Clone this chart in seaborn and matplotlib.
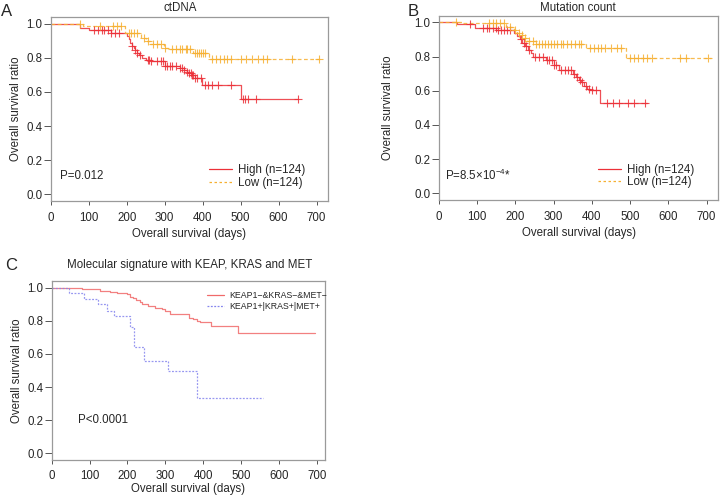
import numpy as np
import pandas as pd
import matplotlib
matplotlib.use('Agg')
import matplotlib.pyplot as plt
import seaborn as sns
from matplotlib.lines import Line2D

sns.set_style('ticks')
plt.rcParams['font.family'] = ['Liberation Sans', 'DejaVu Sans']
plt.rcParams['mathtext.fontset'] = 'custom'
plt.rcParams['mathtext.rm'] = 'Liberation Sans'
plt.rcParams['mathtext.it'] = 'Liberation Sans'

# ---- Panel A: ctDNA ----
a_high_t = [0, 78, 100, 160, 200, 205, 210, 214, 218, 222, 226, 232, 240, 250, 265, 300,
            340, 350, 358, 365, 372, 380, 398, 500]
a_high_s = [1.0, 0.975, 0.965, 0.945, 0.93, 0.91, 0.89, 0.87, 0.86, 0.845, 0.83, 0.815, 0.80,
            0.79, 0.78, 0.755, 0.74, 0.73, 0.72, 0.71, 0.70, 0.68, 0.64, 0.56]
a_high_cens = [115, 125, 135, 140, 150, 160, 168, 180, 215, 222, 228, 235, 255, 258, 265, 280,
               290, 295, 300, 305, 315, 320, 330, 340, 345, 350, 360, 365, 370, 372, 375, 380,
               385, 395, 405, 415, 425, 440, 475, 505, 512, 520, 540, 650]
a_high_end = 652

a_low_t = [0, 85, 195, 238, 250, 262, 297, 312, 375, 418]
a_low_s = [1.0, 0.985, 0.945, 0.915, 0.90, 0.88, 0.86, 0.85, 0.83, 0.795]
a_low_cens = [78, 130, 165, 175, 185, 205, 212, 220, 228, 245, 255, 270, 280, 290, 300, 320,
              330, 340, 345, 355, 360, 368, 380, 385, 390, 395, 400, 405, 425, 435, 445, 455,
              465, 475, 500, 515, 530, 545, 560, 570, 635, 705]
a_low_end = 710

# ---- Panel B: Mutation count ----
b_high_t = [0, 46, 94, 150, 195, 205, 212, 218, 225, 232, 240, 246, 280, 300, 315, 350, 358,
            365, 372, 380, 388, 395, 422]
b_high_s = [1.0, 0.99, 0.965, 0.955, 0.94, 0.92, 0.90, 0.88, 0.86, 0.84, 0.82, 0.80, 0.78,
            0.75, 0.72, 0.70, 0.68, 0.66, 0.65, 0.63, 0.61, 0.605, 0.53]
b_high_cens = [80, 115, 125, 132, 140, 148, 155, 162, 170, 178, 185, 215, 222, 228, 235, 250,
               262, 272, 282, 288, 295, 300, 305, 320, 330, 338, 345, 352, 362, 368, 375, 385,
               392, 400, 412, 440, 455, 470, 495, 510, 540]
b_high_end = 545

b_low_t = [0, 60, 175, 195, 205, 212, 220, 230, 255, 385, 490]
b_low_s = [1.0, 0.995, 0.975, 0.955, 0.94, 0.925, 0.91, 0.89, 0.875, 0.85, 0.79]
b_low_cens = [45, 130, 140, 150, 160, 170, 185, 200, 210, 218, 225, 235, 245, 255, 262, 270,
              278, 285, 292, 300, 310, 318, 325, 335, 345, 355, 365, 372, 395, 405, 415, 425,
              435, 450, 465, 475, 500, 510, 520, 535, 545, 558, 630, 645, 705]
b_low_end = 712

# ---- Panel C: molecular signature ----
c_neg_t = [0, 79, 100, 128, 154, 172, 198, 207, 215, 224, 232, 238, 255, 273, 291, 300, 313,
           362, 372, 383, 392, 420, 493]
c_neg_s = [1.0, 0.995, 0.99, 0.98, 0.975, 0.97, 0.96, 0.945, 0.935, 0.925, 0.915, 0.90, 0.89,
           0.88, 0.87, 0.86, 0.84, 0.82, 0.81, 0.80, 0.79, 0.77, 0.728]
c_neg_end = 695

c_pos_t = [0, 46, 85, 123, 145, 165, 208, 217, 244, 308, 383]
c_pos_s = [1.0, 0.966, 0.93, 0.90, 0.86, 0.83, 0.76, 0.64, 0.56, 0.50, 0.335]
c_pos_end = 559

xticks = [0, 100, 200, 300, 400, 500, 600, 700]
yticks = [0.0, 0.2, 0.4, 0.6, 0.8, 1.0]

RED = '#ec3038'
ORANGE = '#f6b032'
C_RED = '#f06a6a'
C_BLUE = '#8585ee'
FS = 8.3

W, H = 720, 499


def px_axes(fig, left, right, top, bottom):
    return fig.add_axes([left / W, 1 - bottom / H, (right - left) / W, (bottom - top) / H])


def km_frame(t, s, end):
    return pd.DataFrame({'time': list(t) + [end], 'surv': list(s) + [s[-1]]})


def draw_curve(ax, t, s, end, color, ls, cens=None, lw=0.9):
    d = km_frame(t, s, end)
    sns.lineplot(data=d, x='time', y='surv', ax=ax, color=color, linestyle=ls, lw=lw,
                 drawstyle='steps-post', estimator=None, sort=False, alpha=0.85)
    if cens is not None:
        idx = np.searchsorted(np.array(t), np.array(cens), side='right') - 1
        cd = pd.DataFrame({'time': cens, 'surv': np.array(s)[idx]})
        sns.scatterplot(data=cd, x='time', y='surv', ax=ax, marker='+', color=color,
                        s=32, linewidth=0.8, alpha=0.85, zorder=3)


def style_axes(ax, xmax, ypad=3, xpad=2.5):
    ax.set_xlim(0, xmax)
    ax.set_ylim(-0.04, 1.04)
    ax.set_xticks(xticks)
    ax.set_yticks(yticks)
    ax.set_yticklabels([f'{v:.1f}' for v in yticks])
    ax.tick_params(axis='y', length=5, width=0.7, pad=1, labelsize=FS, color='#555555')
    ax.tick_params(axis='x', length=3, width=0.7, pad=5, labelsize=FS, color='#555555')
    for sp in ax.spines.values():
        sp.set_visible(True)
        sp.set_color('#9a9a9a')
        sp.set_linewidth(0.9)
    ax.set_xlabel('Overall survival (days)', fontsize=FS, labelpad=xpad)
    ax.set_ylabel('Overall survival ratio', fontsize=FS, labelpad=ypad)


fig = plt.figure(figsize=(7.2, 4.99), dpi=100)

# Panel A
axA = px_axes(fig, 50.7, 328, 17, 201)
draw_curve(axA, a_high_t, a_high_s, a_high_end, RED, '-', a_high_cens)
draw_curve(axA, a_low_t, a_low_s, a_low_end, ORANGE, (0, (3, 2)), a_low_cens)
style_axes(axA, 730)
axA.text(24, 0.106, 'P=0.012', fontsize=FS, va='center', ha='left')
hA = [Line2D([], [], color=RED, lw=0.9), Line2D([], [], color=ORANGE, lw=0.9, ls=(0, (2, 2)))]
axA.legend(hA, ['High (n=124)', 'Low (n=124)'], loc='upper left', bbox_to_anchor=(0.571, 0.2),
           frameon=False, fontsize=FS, handlelength=2.0, handletextpad=0.5, borderpad=0,
           borderaxespad=0, labelspacing=0.05)

# Panel B
axB = px_axes(fig, 439, 718, 15.5, 200.1)
draw_curve(axB, b_high_t, b_high_s, b_high_end, RED, '-', b_high_cens)
draw_curve(axB, b_low_t, b_low_s, b_low_end, ORANGE, (0, (3, 2)), b_low_cens)
style_axes(axB, 730, ypad=15)
axB.text(16, 0.107, 'P=8.5×10$^{-4}$*', fontsize=FS, va='center', ha='left')
axB.legend(hA, ['High (n=124)', 'Low (n=124)'], loc='upper left', bbox_to_anchor=(0.57, 0.196),
           frameon=False, fontsize=FS, handlelength=2.0, handletextpad=0.5, borderpad=0,
           borderaxespad=0, labelspacing=0.05)

# Panel C
axC = px_axes(fig, 51.7, 325, 281.1, 459.9)
draw_curve(axC, c_neg_t, c_neg_s, c_neg_end, C_RED, '-')
draw_curve(axC, c_pos_t, c_pos_s, c_pos_end, C_BLUE, (0, (1.5, 1.2)))
style_axes(axC, 722, xpad=1)
axC.tick_params(axis='x', pad=4)
axC.text(69, 0.20, 'P<0.0001', fontsize=FS, va='center', ha='left')
hC = [Line2D([], [], color=C_RED, lw=0.9), Line2D([], [], color=C_BLUE, lw=0.9, ls=(0, (1.5, 1.2)))]
axC.legend(hC, ['KEAP1−&KRAS−&MET−', 'KEAP1+|KRAS+|MET+'], loc='upper left',
           bbox_to_anchor=(0.568, 0.945), frameon=False, fontsize=6.3, handlelength=2.0,
           handletextpad=0.5, borderpad=0, borderaxespad=0, labelspacing=0.25)

# titles and panel letters
fig.text(180 / W, 1 - 8 / H, 'ctDNA', fontsize=FS, ha='center', va='center')
fig.text(578 / W, 1 - 8 / H, 'Mutation count', fontsize=FS, ha='center', va='center')
fig.text(189.5 / W, 1 - 265 / H, 'Molecular signature with KEAP, KRAS and MET', fontsize=FS,
         ha='center', va='center')
fig.text(7 / W, 1 - 11 / H, 'A', fontsize=12, ha='center', va='center')
fig.text(413 / W, 1 - 11 / H, 'B', fontsize=12, ha='center', va='center')
fig.text(11 / W, 1 - 265 / H, 'C', fontsize=12, ha='center', va='center')

fig.savefig('out.png', dpi=100)
